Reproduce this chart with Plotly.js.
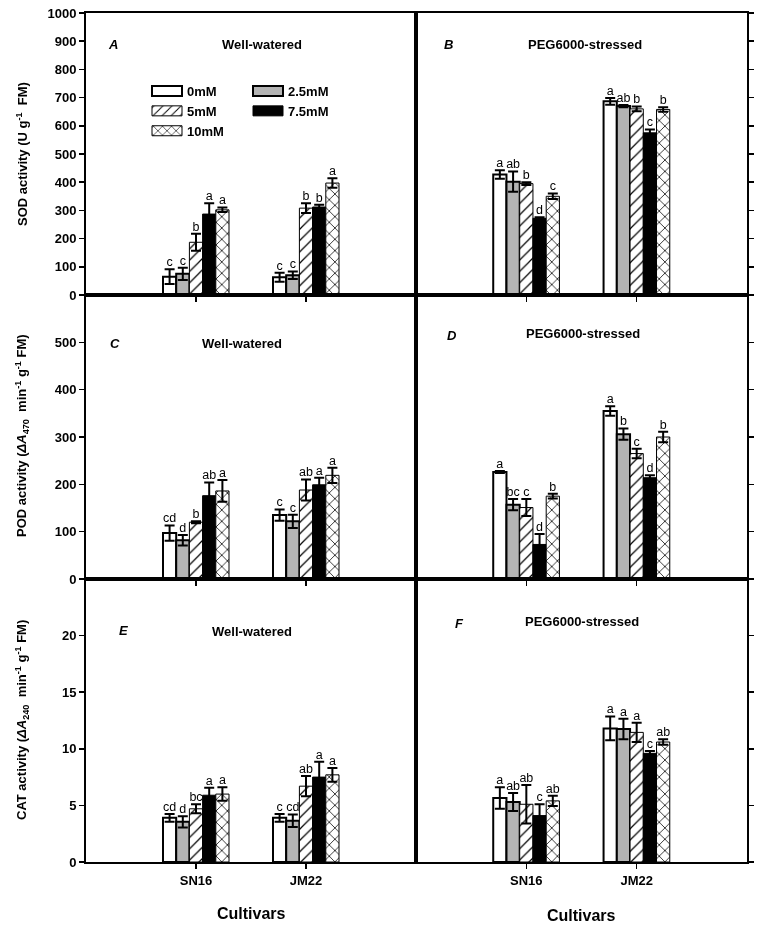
<!DOCTYPE html>
<html><head><meta charset="utf-8">
<script src="https://cdn.plot.ly/plotly-3.0.1.min.js"></script>
<style>html,body{margin:0;padding:0;background:#fff} #chart{opacity:0.999;will-change:transform}</style>
</head><body><div id="chart" style="width:762px;height:928px"></div>
<script>
// ---------------- DATA ----------------
const cultivars = ['SN16', 'JM22'];
const treatments = ['0mM', '2.5mM', '5mM', '7.5mM', '10mM'];

// rows = treatments (0, 2.5, 5, 7.5, 10 mM), columns = cultivars (SN16, JM22)
// A: SOD, well-watered
const sodWellMean = [[65, 63], [75, 70], [187, 308], [287, 312], [302, 397]];
const sodWellErr = [[26, 16], [22, 13], [30, 17], [38, 8], [8, 17]];
const sodWellLetters = [['c', 'c'], ['c', 'c'], ['b', 'b'], ['a', 'b'], ['a', 'a']];
// B: SOD, PEG6000-stressed
const sodPegMean = [[427, 687], [402, 670], [395, 660], [272, 575], [350, 658]];
const sodPegErr = [[15, 12], [36, 4], [5, 8], [4, 12], [10, 8]];
const sodPegLetters = [['a', 'a'], ['ab', 'ab'], ['b', 'b'], ['d', 'c'], ['c', 'b']];
// C: POD, well-watered
const podWellMean = [[97, 135], [82, 122], [120, 188], [176, 199], [186, 219]];
const podWellErr = [[16, 12], [11, 14], [2, 22], [28, 15], [23, 16]];
const podWellLetters = [['cd', 'c'], ['d', 'c'], ['b', 'ab'], ['ab', 'a'], ['a', 'a']];
// D: POD, PEG6000-stressed
const podPegMean = [[226, 355], [157, 306], [151, 265], [73, 214], [175, 300]];
const podPegErr = [[2, 10], [12, 12], [18, 10], [22, 5], [5, 11]];
const podPegLetters = [['a', 'a'], ['bc', 'b'], ['c', 'c'], ['d', 'd'], ['b', 'b']];
// E: CAT, well-watered
const catWellMean = [[3.9, 3.9], [3.55, 3.65], [4.7, 6.7], [5.9, 7.5], [6.0, 7.7]];
const catWellErr = [[0.35, 0.35], [0.5, 0.55], [0.4, 0.9], [0.65, 1.35], [0.6, 0.6]];
const catWellLetters = [['cd', 'c'], ['d', 'cd'], ['bc', 'ab'], ['a', 'a'], ['a', 'a']];
// F: CAT, PEG6000-stressed
const catPegMean = [[5.65, 11.8], [5.3, 11.75], [5.1, 11.45], [4.1, 9.6], [5.4, 10.6]];
const catPegErr = [[0.95, 1.05], [0.8, 0.9], [1.7, 0.85], [1.0, 0.2], [0.45, 0.25]];
const catPegLetters = [['a', 'a'], ['ab', 'a'], ['ab', 'a'], ['c', 'c'], ['ab', 'ab']];

const panelLabels = ['A', 'B', 'C', 'D', 'E', 'F'];
const conditionLabels = ['Well-watered', 'PEG6000-stressed'];
const sodTicks = [0, 100, 200, 300, 400, 500, 600, 700, 800, 900, 1000];
const podTicks = [0, 100, 200, 300, 400, 500];
const catTicks = [0, 5, 10, 15, 20];
const xTitle = 'Cultivars';
const yTitles = [
  'SOD activity (U g<sup>-1</sup>  FM)',
  'POD activity (<i>ΔA</i><sub>470</sub>  min<sup>-1</sup> g<sup>-1</sup> FM)',
  'CAT activity (<i>ΔA</i><sub>240</sub>  min<sup>-1</sup> g<sup>-1</sup> FM)'
];

// ---------------- STYLE ----------------
const F = '"Liberation Sans", Arial, sans-serif';
const W = 762, H = 928, ML = 86, MR = 15, MT = 13, MB = 66;
const PW = W - ML - MR, PH = H - MT - MB;
const px = v => (v - ML) / PW;
const py = v => (H - MB - v) / PH;

const barStyles = [
  { color: '#ffffff', lw: 2, pattern: null, legend: 'legend' },
  { color: '#b4b4b4', lw: 2, pattern: null, legend: 'legend2' },
  { color: '#ffffff', lw: 1, pattern: { shape: '/', size: 8, solidity: 0.15, fgcolor: '#000', bgcolor: '#fff', fgopacity: 1 }, legend: 'legend' },
  { color: '#000000', lw: 1, pattern: null, legend: 'legend2' },
  { color: '#ffffff', lw: 1, pattern: { shape: 'x', size: 8, solidity: 0.18, fgcolor: '#000', bgcolor: '#fff', fgopacity: 1 }, legend: 'legend' }
];

const panels = [
  { mean: sodWellMean, err: sodWellErr, letters: sodWellLetters, xa: 'x', ya: 'y' },
  { mean: sodPegMean, err: sodPegErr, letters: sodPegLetters, xa: 'x2', ya: 'y2' },
  { mean: podWellMean, err: podWellErr, letters: podWellLetters, xa: 'x3', ya: 'y3' },
  { mean: podPegMean, err: podPegErr, letters: podPegLetters, xa: 'x4', ya: 'y4' },
  { mean: catWellMean, err: catWellErr, letters: catWellLetters, xa: 'x5', ya: 'y5' },
  { mean: catPegMean, err: catPegErr, letters: catPegLetters, xa: 'x6', ya: 'y6' }
];

const traces = [];
panels.forEach((p, pi) => {
  treatments.forEach((t, ti) => {
    const s = barStyles[ti];
    const marker = { color: s.color, line: { color: '#000', width: s.lw } };
    if (s.pattern) marker.pattern = s.pattern;
    traces.push({
      type: 'bar', x: cultivars, y: p.mean[ti], name: t,
      xaxis: p.xa, yaxis: p.ya, marker: marker,
      error_y: { type: 'data', array: p.err[ti], visible: true, color: '#000', thickness: 2, width: 5 },
      showlegend: pi === 0, legend: s.legend, hoverinfo: 'skip'
    });
  });
  treatments.forEach((t, ti) => {
    traces.push({
      type: 'scatter', mode: 'text', x: cultivars,
      y: p.mean[ti].map((v, i) => v + p.err[ti][i]),
      text: p.letters[ti], textposition: 'top center',
      textfont: { family: F, size: 12.5, color: 'rgb(0,0,0)' },
      xaxis: p.xa, yaxis: p.ya, showlegend: false, cliponaxis: false, hoverinfo: 'skip'
    });
  });
});

const xL = [0, 330 / PW], xR = [330 / PW, 1];
const rows = [[567 / PH, 1], [283 / PH, 567 / PH], [0, 283 / PH]];
const tickFont = { family: F, size: 13, weight: 'bold', color: '#000' };

function xAx(domain, anchor, labels) {
  return {
    domain: domain, anchor: anchor, type: 'category', range: [-1, 2],
    showline: true, linewidth: 2, linecolor: '#000', mirror: true,
    ticks: 'outside', ticklen: 5, tickwidth: 1.5, tickcolor: '#000',
    showgrid: false, zeroline: false, showticklabels: labels, tickfont: tickFont, fixedrange: true
  };
}
function yAx(domain, anchor, side, range, tickvals) {
  return {
    domain: domain, anchor: anchor, side: side, range: range, tickvals: tickvals,
    showline: true, linewidth: 2, linecolor: '#000', mirror: true,
    ticks: 'outside', ticklen: 5, tickwidth: 1.5, tickcolor: '#000',
    showgrid: false, zeroline: false, showticklabels: side === 'left', tickfont: tickFont, fixedrange: true
  };
}

const ann = [];
const labelPos = [[113, 44], [448, 44], [115, 343], [452, 335], [123, 630], [459, 623]];
const condPos = [[262, 44], [585, 44], [242, 343], [583, 333], [252, 631], [582, 621]];
panelLabels.forEach((l, i) => {
  ann.push({ xref: 'paper', yref: 'paper', x: px(labelPos[i][0]), y: py(labelPos[i][1]), text: '<b><i>' + l + '</i></b>',
    showarrow: false, xanchor: 'center', yanchor: 'middle', font: { family: F, size: 13, color: '#000' } });
  ann.push({ xref: 'paper', yref: 'paper', x: px(condPos[i][0]), y: py(condPos[i][1]), text: conditionLabels[i % 2],
    showarrow: false, xanchor: 'center', yanchor: 'middle', font: { family: F, size: 13, weight: 'bold', color: '#000' } });
});
const yTitlePos = [154, 436, 720];
yTitles.forEach((t, i) => {
  ann.push({ xref: 'paper', yref: 'paper', x: px(22), y: py(yTitlePos[i]), text: t, textangle: -90,
    showarrow: false, xanchor: 'center', yanchor: 'middle', font: { family: F, size: 13, weight: 'bold', color: '#000' } });
});
[[251, 913], [581, 915]].forEach(pos => {
  ann.push({ xref: 'paper', yref: 'paper', x: px(pos[0]), y: py(pos[1]), text: xTitle,
    showarrow: false, xanchor: 'center', yanchor: 'middle', font: { family: F, size: 16, weight: 'bold', color: '#000' } });
});

const legendBase = { xanchor: 'left', yanchor: 'top', bgcolor: 'rgba(0,0,0,0)', borderwidth: 0,
  font: { family: F, size: 13, weight: 'bold', color: '#000' }, traceorder: 'normal', itemclick: false, itemdoubleclick: false };

const layout = {
  width: W, height: H, margin: { l: ML, r: MR, t: MT, b: MB },
  paper_bgcolor: '#fff', plot_bgcolor: '#fff', font: { family: F, color: '#000' },
  barmode: 'group', bargap: 0.4, bargroupgap: 0,
  scattermode: 'group', scattergap: 0.4,
  showlegend: true,
  legend: Object.assign({ x: px(147), y: py(76) }, legendBase),
  legend2: Object.assign({ x: px(248), y: py(76) }, legendBase),
  xaxis: xAx(xL, 'y', false), yaxis: yAx(rows[0], 'x', 'left', [0, 1000], sodTicks),
  xaxis2: xAx(xR, 'y2', false), yaxis2: yAx(rows[0], 'x2', 'right', [0, 1000], sodTicks),
  xaxis3: xAx(xL, 'y3', false), yaxis3: yAx(rows[1], 'x3', 'left', [0, 600], podTicks),
  xaxis4: xAx(xR, 'y4', false), yaxis4: yAx(rows[1], 'x4', 'right', [0, 600], podTicks),
  xaxis5: xAx(xL, 'y5', true), yaxis5: yAx(rows[2], 'x5', 'left', [0, 25], catTicks),
  xaxis6: xAx(xR, 'y6', true), yaxis6: yAx(rows[2], 'x6', 'right', [0, 25], catTicks),
  annotations: ann
};

Plotly.newPlot('chart', traces, layout, { staticPlot: true, displayModeBar: false }).then(gd => {
  gd.querySelectorAll('.legendpoints path').forEach(p => p.setAttribute('d', 'M15,5H-15V-5H15Z'));
});
</script></body></html>
